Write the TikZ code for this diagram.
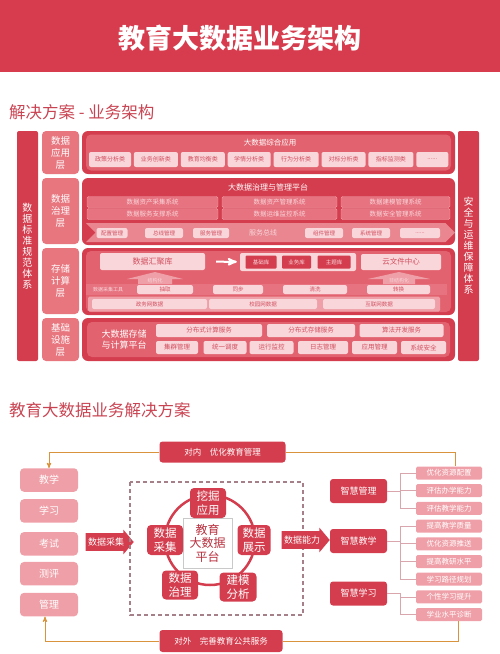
\documentclass[tikz,border=0pt]{standalone}
\usepackage{fontspec}
\setmainfont{Noto Sans CJK SC}
\usepackage{xcolor}
\usetikzlibrary{arrows,positioning,shapes.arrows,shapes.symbols}

\definecolor{BannerRed}{HTML}{D63C4D}
\definecolor{PanelRed}{HTML}{D43D4E}
\definecolor{InnerRed}{HTML}{E2636F}
\definecolor{TagRed}{HTML}{E8767F}
\definecolor{RowPink}{HTML}{E77380}
\definecolor{BusPink}{HTML}{E98690}
\definecolor{LitePink}{HTML}{F8D6DA}
\definecolor{SoftPink}{HTML}{EF9FA7}
\definecolor{TextRed}{HTML}{D2505F}
\definecolor{TitleRed}{HTML}{C94452}
\definecolor{Gold}{HTML}{D8933C}
\definecolor{DashGray}{HTML}{A58089}
\definecolor{LinkPink}{HTML}{D9A6AD}
\definecolor{CoreBorder}{HTML}{C9C9C9}
\definecolor{CoreText}{HTML}{B9303E}

\newcommand{\fsz}[2]{\fontsize{#1}{#2}\selectfont}

\begin{document}
\begin{tikzpicture}[x=1pt,y=-1pt,>=stealth']
    \tikzstyle{SideBar}=[fill          = PanelRed,
                         rounded corners = 2pt,
                         text          = white,
                         align         = center,
                         inner sep     = 0pt,
                         minimum width = 21pt,
                         minimum height= 230pt,
                         font          = \fsz{10}{11}]
    \tikzstyle{LayerTag}=[fill          = TagRed,
                          rounded corners = 4pt,
                          text          = white,
                          align         = center,
                          inner sep     = 0pt,
                          minimum width = 37pt,
                          font          = \fsz{9.5}{12}]
    \tikzstyle{Panel}=[fill=PanelRed, rounded corners=6pt, inner sep=0pt, minimum width=373pt]
    \tikzstyle{Inner}=[fill=InnerRed, rounded corners=5pt, inner sep=0pt]
    \tikzstyle{PanTitle}=[text=white, inner sep=0pt, font=\fsz{7.5}{7.5}]
    \tikzstyle{AppBox}=[fill          = LitePink,
                        rounded corners = 2pt,
                        text          = TextRed,
                        inner sep     = 0pt,
                        minimum height= 15pt,
                        font          = \fsz{6}{6}]
    \tikzstyle{SysBox}=[fill          = RowPink,
                        draw          = SoftPink,
                        line width    = 0.4pt,
                        rounded corners = 1.5pt,
                        text          = LitePink,
                        inner sep     = 0pt,
                        minimum height= 11pt,
                        font          = \fsz{6.5}{6.5}]
    \tikzstyle{BusBox}=[AppBox, minimum height=10pt, font=\fsz{5.5}{5.5}]
    \tikzstyle{StoreBox}=[AppBox, font=\fsz{6}{6}]
    \tikzstyle{LibBox}=[fill=PanelRed, rounded corners=1pt, text=LitePink,
                        inner sep=0pt, minimum height=13pt, font=\fsz{5.5}{5.5}]
    \tikzstyle{SmallBox}=[AppBox, minimum height=9pt, font=\fsz{5.5}{5.5}]
    \tikzstyle{TinyText}=[text=LitePink, inner sep=0pt, font=\fsz{5}{5}]
    \tikzstyle{BaseBox}=[AppBox, minimum height=13pt, font=\fsz{6.5}{6.5}]
    \tikzstyle{SecTitle}=[text=TitleRed, inner sep=0pt, font=\fsz{16.5}{16.5}]
    \tikzstyle{RedBox}=[fill          = PanelRed,
                        rounded corners = 3pt,
                        text          = white,
                        align         = center,
                        inner sep     = 0pt]
    \tikzstyle{ScenTag}=[fill=SoftPink, rounded corners=4pt, text=white, inner sep=0pt,
                         minimum width=58pt, minimum height=23.5pt, font=\fsz{10}{10}]
    \tikzstyle{ItemBox}=[fill=SoftPink, rounded corners=1.5pt, text=white, inner sep=0pt,
                         minimum width=66pt, minimum height=13pt, font=\fsz{7.5}{7.5}]
    \tikzstyle{CoreBox}=[RedBox, rounded corners=4pt, minimum width=36pt,
                         minimum height=30pt, font=\fsz{11.5}{14}]
    \tikzstyle{BlockArrow}=[single arrow,
                            fill          = PanelRed,
                            text          = white,
                            inner xsep    = 1pt,
                            inner ysep    = 4.5pt,
                            minimum height= 48pt,
                            single arrow head extend = 3.5pt,
                            single arrow tip angle = 100,
                            font          = \fsz{9}{9}]
    \tikzstyle{GoldLine}=[draw=Gold, line width=0.9pt]
    \tikzstyle{Bracket}=[draw=LinkPink, line width=0.8pt]

    \useasboundingbox (0,0) rectangle (500,654);
    \fill[BannerRed] (0,0) rectangle (500,72);
    \node[text=white, font=\bfseries\fsz{27}{27}] (Title) at (240,38) {教育大数据业务架构};
    \node[SecTitle, anchor=west] (SubA) at (9,112) {解决方案 - 业务架构};

    \node[SideBar] (StdBar)  at (27.5,246)  {数\\据\\标\\准\\规\\范\\体\\系};
    \node[SideBar] (SafeBar) at (468.5,246) {安\\全\\与\\运\\维\\保\\障\\体\\系};

    \node[LayerTag, minimum height=43pt] (TagApp)   at (60.5,152.5) {数据\\应用\\层};
    \node[LayerTag, minimum height=66pt] (TagGov)   at (60.5,211)   {数据\\治理\\层};
    \node[LayerTag, minimum height=66pt] (TagStore) at (60.5,281)   {存储\\计算\\层};
    \node[LayerTag, minimum height=43pt] (TagBase)  at (60.5,339.5) {基础\\设施\\层};

    \node[Panel, minimum height=43pt] (PanApp) at (268.5,152.5) {};
    \node[Inner, minimum width=365pt, minimum height=36pt] (InApp) at (268.5,152.5) {};
    \node[PanTitle] (AppTitle) at (270,143) {大数据综合应用};
    \node[AppBox, minimum width=42pt] (App1) at (110,159.5) {政策分析类};
    \node[AppBox, minimum width=44pt, right=2.5pt of App1] (App2) {业务创新类};
    \node[AppBox, minimum width=44pt, right=2.5pt of App2] (App3) {教育均衡类};
    \node[AppBox, minimum width=43pt, right=2.5pt of App3] (App4) {学情分析类};
    \node[AppBox, minimum width=45pt, right=2.5pt of App4] (App5) {行为分析类};
    \node[AppBox, minimum width=44pt, right=2.5pt of App5] (App6) {对标分析类};
    \node[AppBox, minimum width=45pt, right=2.5pt of App6] (App7) {指标监测类};
    \node[AppBox, minimum width=32pt, right=2.5pt of App7] (App8) {......};

    \node[Panel, minimum height=67pt] (PanGov) at (268.5,211.5) {};
    \node[PanTitle, font=\fsz{8}{8}] (GovTitle) at (268,187) {大数据治理与管理平台};
    \node[SysBox, minimum width=131pt] (Sys1) at (152.5,202) {数据资产采集系统};
    \node[SysBox, minimum width=115pt] (Sys2) at (279.5,202) {数据资产管理系统};
    \node[SysBox, minimum width=109pt] (Sys3) at (395.5,202) {数据建模管理系统};
    \node[SysBox, minimum width=131pt] (Sys4) at (152.5,214) {数据服务支撑系统};
    \node[SysBox, minimum width=115pt] (Sys5) at (279.5,214) {数据运维监控系统};
    \node[SysBox, minimum width=109pt] (Sys6) at (395.5,214) {数据安全管理系统};
    \node[signal, signal from=west, signal to=east, fill=BusPink, inner sep=0pt,
          minimum width=369pt, minimum height=19pt] (Bus) at (270.5,232.5) {};
    \node[BusBox, minimum width=31pt] (Bus1) at (112,233) {配置管理};
    \node[BusBox, minimum width=38pt] (Bus2) at (164,233) {总线管理};
    \node[BusBox, minimum width=36pt] (Bus3) at (211,233) {服务管理};
    \node[text=LitePink, inner sep=0pt, font=\fsz{7}{7}] (BusName) at (263,233) {服务总线};
    \node[BusBox, minimum width=38pt] (Bus4) at (324,233) {组件管理};
    \node[BusBox, minimum width=38pt] (Bus5) at (371,233) {系统管理};
    \node[BusBox, minimum width=40pt] (Bus6) at (420,233) {......};

    \node[Panel, minimum height=67pt] (PanStore) at (268.5,281.5) {};
    \node[Inner, minimum width=365pt, minimum height=61pt] (InStore) at (268.5,281.5) {};
    \node[StoreBox, minimum width=105pt, minimum height=17pt, font=\fsz{8}{8}] (Hub) at (152.5,261.5) {数据汇聚库};
    \node[StoreBox, minimum width=116pt, minimum height=18pt] (LibStrip) at (298,262) {};
    \node[LibBox, minimum width=31pt] (Lib1) at (261,262) {基础库};
    \node[LibBox, minimum width=29pt] (Lib2) at (296.5,262) {业务库};
    \node[LibBox, minimum width=33pt] (Lib3) at (334,262) {主题库};
    \node[StoreBox, minimum width=80pt, minimum height=16pt, font=\fsz{7.5}{7.5}] (Cloud) at (401,262) {云文件中心};
    \draw[white, line width=2pt, ->, shorten <=11pt, shorten >=3pt] (Hub) -- (LibStrip);
    \node[fill=RowPink, inner sep=0pt, minimum width=361pt, minimum height=11pt] (ToolStrip) at (266.5,289.5) {};
    \node[fill=SoftPink, rounded corners=1.5pt, inner sep=0pt, minimum width=352pt, minimum height=15pt] (NetStrip) at (264,304) {};
    \fill[SoftPink] (127,279) -- (155,272) -- (183,279) -- (172,279) -- (172,284) -- (138,284) -- (138,279) -- cycle;
    \fill[SoftPink] (368,279) -- (399,272) -- (430,279) -- (415,279) -- (415,284) -- (383,284) -- (383,279) -- cycle;
    \node[TinyText] (Struct)   at (155,280.5) {结构化};
    \node[TinyText] (Unstruct) at (399,280.5) {非结构化};
    \node[TinyText] (Tool) at (108,289.5) {数据采集工具};
    \node[SmallBox, minimum width=56pt] (Extract) at (165,289.5)   {抽取};
    \node[SmallBox, minimum width=50pt] (Sync)    at (238,289.5)   {同步};
    \node[SmallBox, minimum width=64pt] (Clean)   at (315,289.5)   {清洗};
    \node[SmallBox, minimum width=63pt] (Convert) at (398.5,289.5) {转换};
    \node[SmallBox, minimum width=115pt, minimum height=10pt] (NetGov)    at (149.5,304) {政务网数据};
    \node[SmallBox, minimum width=108pt, minimum height=10pt] (NetCampus) at (263,304)   {校园网数据};
    \node[SmallBox, minimum width=112pt, minimum height=10pt] (NetWeb)    at (379,304)   {互联网数据};

    \node[Panel, minimum height=43pt] (PanBase) at (268.5,339.5) {};
    \node[Inner, minimum width=363pt, minimum height=35pt] (InBase) at (268.5,339.5) {};
    \node[PanTitle, align=center, font=\fsz{9}{11}] (BaseTitle) at (124,339.5) {大数据存储\\与计算平台};
    \node[BaseBox, minimum width=106pt] (Svc1) at (209,330.5)   {分布式计算服务};
    \node[BaseBox, minimum width=88pt]  (Svc2) at (311,330.5)   {分布式存储服务};
    \node[BaseBox, minimum width=84pt]  (Svc3) at (401.5,330.5) {算法开发服务};
    \node[BaseBox, minimum width=42pt]  (Ops1) at (177,347.5)   {集群管理};
    \node[BaseBox, minimum width=43pt]  (Ops2) at (225,347.5)   {统一调度};
    \node[BaseBox, minimum width=44pt]  (Ops3) at (271.5,347.5) {运行监控};
    \node[BaseBox, minimum width=50pt]  (Ops4) at (323,347.5)   {日志管理};
    \node[BaseBox, minimum width=45pt]  (Ops5) at (374.5,347.5) {应用管理};
    \node[BaseBox, minimum width=45pt]  (Ops6) at (423.5,347.5) {系统安全};

    \node[SecTitle, anchor=west] (SubB) at (9,410) {教育大数据业务解决方案};
    \node[RedBox, minimum width=126pt, minimum height=21pt, font=\fsz{8.5}{8.5}] (InGoal)  at (222.5,452) {对内\quad 优化教育管理};
    \node[RedBox, minimum width=123pt, minimum height=22pt, font=\fsz{8.5}{8.5}] (OutGoal) at (221,641)   {对外\quad 完善教育公共服务};

    \node[ScenTag] (Teach) at (49,480) {教学};
    \node[ScenTag, below=7pt of Teach] (Learn)  {学习};
    \node[ScenTag, below=9pt of Learn] (Exam)   {考试};
    \node[ScenTag, below=6pt of Exam]  (Assess) {测评};
    \node[ScenTag, below=7pt of Assess] (Manage) {管理};

    \node[BlockArrow] (Collect) at (106,542) {数据采集};
    \draw[DashGray, line width=1.2pt, dash pattern=on 4pt off 3pt] (130,482) rectangle (303,615);
    \draw[PanelRed, line width=2.5pt] (210,540) circle (45pt);
    \node[fill=white, draw=CoreBorder, text=CoreText, align=center, inner sep=0pt,
          minimum width=49pt, minimum height=50pt, font=\fsz{12}{13.5}] (Core) at (207.5,543) {教育\\大数据\\平台};
    \node[CoreBox] (Mine)    at (208,503) {挖掘\\应用};
    \node[CoreBox, minimum width=33pt] (Show) at (254,540) {数据\\展示};
    \node[CoreBox, minimum width=37pt, minimum height=29pt] (Model)  at (238,587) {建模\\分析};
    \node[CoreBox, minimum height=29pt] (Govern) at (180,585) {数据\\治理};
    \node[CoreBox] (Gather)  at (165,540) {数据\\采集};
    \node[BlockArrow] (Ability) at (302,540) {数据能力};

    \node[RedBox, minimum width=57pt, minimum height=24pt, font=\fsz{9}{9}] (SmartMgmt)  at (358.5,491)   {智慧管理};
    \node[RedBox, minimum width=57pt, minimum height=24pt, font=\fsz{9}{9}] (SmartTeach) at (358.5,541)   {智慧教学};
    \node[RedBox, minimum width=57pt, minimum height=24pt, font=\fsz{9}{9}] (SmartLearn) at (358.5,593.5) {智慧学习};

    \node[ItemBox] (Opt1) at (449,473) {优化资源配置};
    \node[ItemBox, below=4.3pt of Opt1] (Opt2) {评估办学能力};
    \node[ItemBox, below=4.3pt of Opt2] (Opt3) {评估教学能力};
    \node[ItemBox, below=4.3pt of Opt3] (Opt4) {提高教学质量};
    \node[ItemBox, below=4.3pt of Opt4] (Opt5) {优化资源推送};
    \node[ItemBox, below=4.3pt of Opt5] (Opt6) {提高教研水平};
    \node[ItemBox, below=4.3pt of Opt6] (Opt7) {学习路径规划};
    \node[ItemBox, below=4.3pt of Opt7] (Opt8) {个性学习提升};
    \node[ItemBox, below=4.3pt of Opt8] (Opt9) {学业水平诊断};

    \draw[Bracket] (SmartMgmt.east) -- ++(13,0) |- (Opt1.west);
    \draw[Bracket] (SmartMgmt.east) -- ++(13,0) |- (Opt2.west);
    \draw[Bracket] (SmartMgmt.east) -- ++(13,0) |- (Opt3.west);
    \draw[Bracket] (SmartTeach.east) -- ++(13,0) |- (Opt4.west);
    \draw[Bracket] (SmartTeach.east) -- ++(13,0) |- (Opt5.west);
    \draw[Bracket] (SmartTeach.east) -- ++(13,0) |- (Opt6.west);
    \draw[Bracket] (SmartTeach.east) -- ++(13,0) |- (Opt7.west);
    \draw[Bracket] (SmartLearn.east) -- ++(13,0) |- (Opt8.west);
    \draw[Bracket] (SmartLearn.east) -- ++(13,0) |- (Opt9.west);

    \draw[GoldLine, ->] (InGoal.west) -| (Teach.north);
    \draw[GoldLine] (InGoal.east) -| ([xshift=6pt]Opt1.north);
    \draw[GoldLine, ->] (OutGoal.west) -| ([xshift=-4pt]Manage.south);
    \draw[GoldLine] (OutGoal.east) -| ([xshift=9pt]Opt9.south);
\end{tikzpicture}
\end{document}
